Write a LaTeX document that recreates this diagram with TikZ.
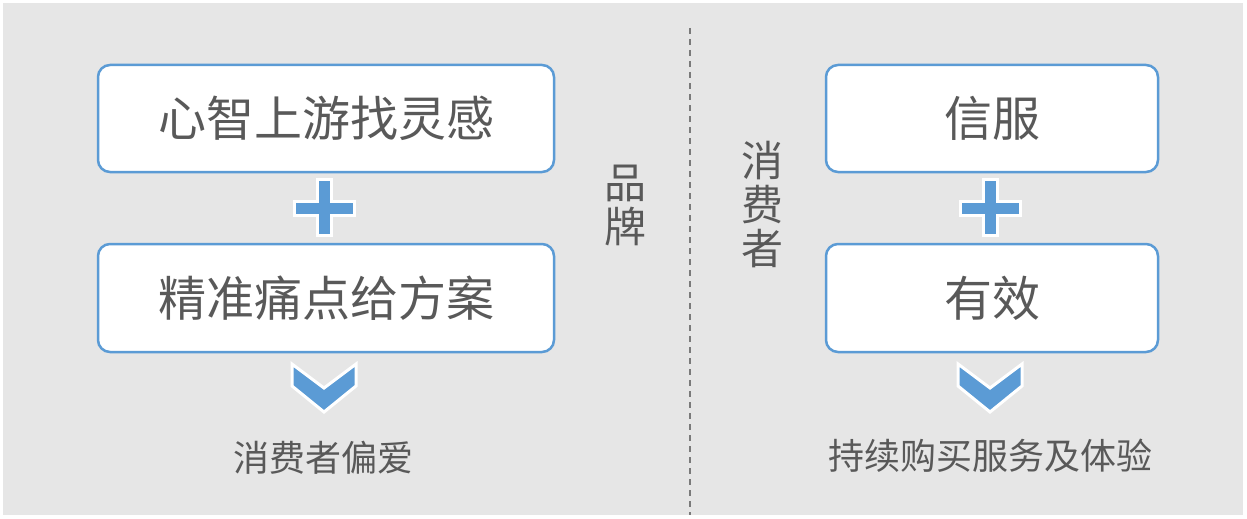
\documentclass[tikz,border=0pt]{standalone}
\usepackage{fontspec}
\setmainfont{Noto Sans CJK SC}
\begin{document}
\begin{tikzpicture}[x=1pt,y=-1pt,
  box/.style={draw=bl,line width=2.5pt,fill=white,rounded corners=12pt,font=\fontsize{48}{52}\selectfont,text=tg},
  lbl/.style={font=\fontsize{36}{40}\selectfont,text=tg},
  vlbl/.style={font=\fontsize{42}{46}\selectfont,text=tg,align=center}]
\definecolor{bl}{HTML}{5B9BD5}\definecolor{tg}{HTML}{595959}\definecolor{bg}{HTML}{E6E6E6}
\useasboundingbox (0,0) rectangle (1247,519);
\fill[white] (0,0) rectangle (1247,519);
\fill[bg] (3,3) rectangle (1243,515);
\draw[dash pattern=on 6pt off 5pt,line width=1.5pt,tg!80] (690,28) -- (690,515);
\foreach \cx/\w/\ta/\tb/\n in {326/456/心智上游找灵感/精准痛点给方案/L,992/332/信服/有效/R}{
  \node[box,minimum width=\w pt,minimum height=107pt] (\n a) at (\cx,118.5) {\ta};
  \node[box,minimum width=\w pt,minimum height=108pt] (\n b) at (\cx,298) {\tb};
  \begin{scope}[shift={(\cx-2,208)}]
   \filldraw[fill=bl,draw=white,line width=3pt] (-30,-7)--(-7,-7)--(-7,-29)--(7,-29)--(7,-7)--(30,-7)--(30,7)--(7,7)--(7,27)--(-7,27)--(-7,7)--(-30,7)--cycle;
  \end{scope}
  \begin{scope}[shift={(\cx-2,0)}]
   \filldraw[fill=bl,draw=white,line width=3pt] (-32,364)--(0,388)--(32,364)--(32,386)--(0,412)--(-32,386)--cycle;
  \end{scope}
}
\node[lbl] (l1) at (323,458) {消费者偏爱};
\node[lbl] (l2) at (990,456) {持续购买服务及体验};
\node[vlbl] (v1) at (625,205) {品\\[-2pt]牌};
\node[vlbl] (v2) at (762,205) {消\\[-2pt]费\\[-2pt]者};
\end{tikzpicture}
\end{document}
